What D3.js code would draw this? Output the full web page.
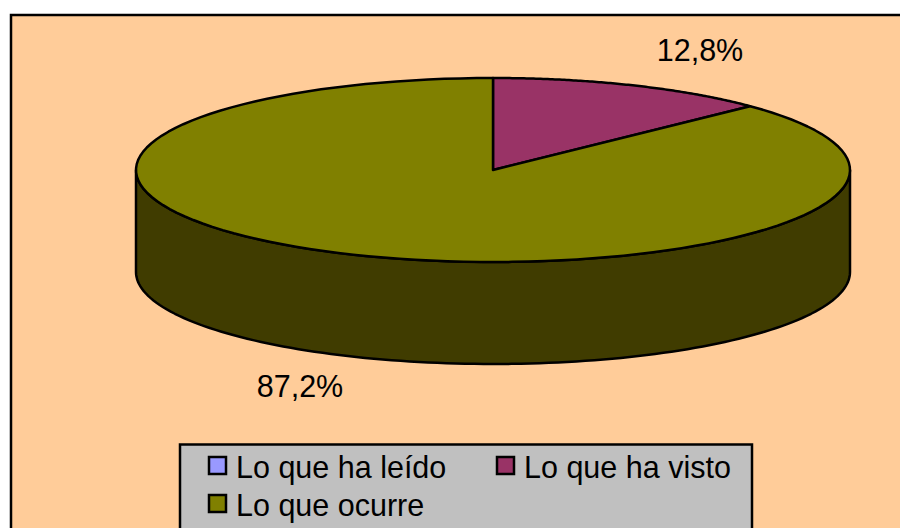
<!DOCTYPE html>
<html><head><meta charset="utf-8">
<script src="https://cdn.jsdelivr.net/npm/d3@7"></script>
<style>html,body{margin:0;padding:0;background:#fff}svg{display:block}text{font-family:"Liberation Sans",Arial,sans-serif;fill:#000}</style>
</head><body><svg id="c" width="900" height="528"></svg>
<script>
const categories=["Lo que ha leído","Lo que ha visto","Lo que ocurre"];
const values=[0,12.8,87.2];
const labels=["","12,8%","87,2%"];
const colors=["#9999FF","#993366","#808000"];
const sideColor="#403C00";

const W=900,H=528;
const cx=493,cy=170,rx=357,ry=92,depth=102;
const svg=d3.select("#c");
const x=d3.scaleLinear().domain([-1,1]).range([cx-rx,cx+rx]);
const y=d3.scaleLinear().domain([-1,1]).range([cy-ry,cy+ry]);
const px=a=>x(Math.sin(a)),py=a=>y(-Math.cos(a));

svg.append("rect").attr("x",11).attr("y",15).attr("width",W+20).attr("height",H+20)
  .attr("fill","#FFCC99").attr("stroke","#000").attr("stroke-width",2.5);

const pie=d3.pie().sort(null).value(d=>d);
const arcs=pie(values);
const line=d3.line().x(d=>d[0]).y(d=>d[1]);
const pts=(a0,a1,dy=0)=>d3.range(0,121).map(i=>{const a=a0+(a1-a0)*i/120;return [px(a),py(a)+dy];});

// Rim wall: front half of the ellipse, extruded downward
const front=pts(Math.PI/2,3*Math.PI/2);
const back=pts(Math.PI/2,3*Math.PI/2,depth).reverse();
svg.append("path").attr("d",line(front.concat(back))+"Z")
  .attr("fill",sideColor).attr("stroke","#000").attr("stroke-width",2.5).attr("stroke-linejoin","round");

// Top face slices
svg.selectAll("path.slice").data(arcs.filter(d=>d.value>0)).join("path").attr("class","slice")
  .attr("d",d=>line([[cx,cy],...pts(d.startAngle,d.endAngle)])+"Z")
  .attr("fill",d=>colors[d.index]).attr("stroke","#000").attr("stroke-width",2.5).attr("stroke-linejoin","round");

// Data labels
const labelPos=[null,[700,61],[300,397]];
svg.selectAll("text.lab").data(labels).join("text").attr("class","lab")
  .attr("x",(d,i)=>labelPos[i]?labelPos[i][0]:0).attr("y",(d,i)=>labelPos[i]?labelPos[i][1]:0)
  .attr("text-anchor","middle").attr("font-size",30.5).text(d=>d);

// Legend
svg.append("rect").attr("x",180).attr("y",444.5).attr("width",572).attr("height",H)
  .attr("fill","#C0C0C0").attr("stroke","#000").attr("stroke-width",2.5);
const legendPos=[[209,457],[497,457],[209,495]];
const g=svg.selectAll("g.leg").data(categories).join("g").attr("class","leg")
  .attr("transform",(d,i)=>`translate(${legendPos[i][0]},${legendPos[i][1]})`);
g.append("rect").attr("width",17).attr("height",17).attr("fill",(d,i)=>colors[i])
  .attr("stroke","#000").attr("stroke-width",2.5);
g.append("text").attr("x",27).attr("y",21).attr("font-size",30.5).text(d=>d);
</script></body></html>
